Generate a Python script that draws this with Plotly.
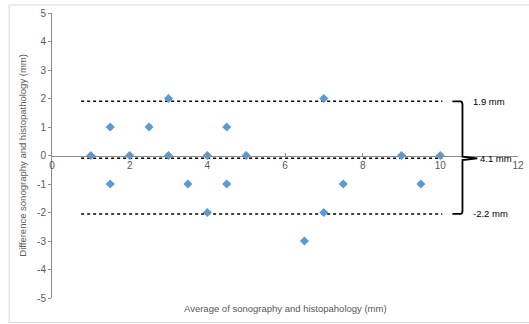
import plotly.graph_objects as go

# Data
avg_vals = [1, 1.5, 1.5, 2, 2.5, 3, 3, 3.5, 4, 4, 4.5, 4.5, 5, 6.5, 7, 7, 7.5, 9, 9.5, 10]
diff_vals = [0, 1, -1, 0, 1, 2, 0, -1, 0, -2, 1, -1, 0, -3, 2, -2, -1, 0, -1, 0]
limit_names = ["upper", "mean", "lower"]
limit_vals = [1.9, -0.1, -2.05]
limit_labels = ["1.9 mm", "4.1 mm", "-2.2 mm"]
line_x_range = [0.75, 10.05]
x_ticks = [0, 2, 4, 6, 8, 10, 12]
y_ticks = [5, 4, 3, 2, 1, 0, -1, -2, -3, -4, -5]
y_tick_text = ["5", "4", "3", "2", "1", "0", "-1", "-2", "-3", "-4", "-5"]

GRAY = "#595959"
AXIS = "#8c8c8c"
FONT = "Liberation Sans, Arial, sans-serif"

fig = go.Figure()

for v in limit_vals:
    fig.add_trace(go.Scatter(
        x=line_x_range, y=[v, v], mode="lines",
        line=dict(color="black", width=1.5, dash="dot"),
        hoverinfo="skip", showlegend=False))

fig.add_trace(go.Scatter(
    x=avg_vals, y=diff_vals, mode="markers",
    marker=dict(symbol="diamond", size=7, color="#5B9BD5"),
    showlegend=False))

# bracket (brace) linking the limits
bx0, bx1, btip = 10.31, 10.57, 10.95
top, mid, bot = limit_vals[0], limit_vals[1], limit_vals[2]
path = (f"M {bx0},{top} L {bx1-0.05},{top} Q {bx1},{top} {bx1},{top-0.12} "
        f"L {bx1},{mid+0.06} L {btip},{mid} L {bx1},{mid-0.06} "
        f"L {bx1},{bot+0.12} Q {bx1},{bot} {bx1-0.05},{bot} L {bx0},{bot}")
fig.add_shape(type="path", path=path, xref="x", yref="y",
              line=dict(color="black", width=1.8))

label_x = [10.8, 10.98, 10.8]
for lx, v, t in zip(label_x, limit_vals, limit_labels):
    fig.add_annotation(x=lx, y=v, text=t, showarrow=False, xanchor="left",
                       yanchor="middle", xref="x", yref="y",
                       font=dict(size=9.5, color="black", family=FONT))

# outer border
fig.add_shape(type="rect", xref="paper", yref="paper",
              x0=-0.092, x1=1.03, y0=-0.086, y1=1.028,
              line=dict(color="#d9d9d9", width=1))

fig.add_annotation(xref="paper", yref="paper", x=0.5, y=-0.012,
                   text="Average of sonography and histopahology (mm)",
                   showarrow=False, xanchor="center", yanchor="top",
                   font=dict(size=9.5, color=GRAY, family=FONT))
fig.add_annotation(xref="paper", yref="paper", x=-0.064, y=0.5,
                   text="Difference sonography and histopathology (mm)",
                   textangle=-90, showarrow=False, xanchor="center", yanchor="middle",
                   font=dict(size=9.5, color=GRAY, family=FONT))

fig.update_layout(
    width=529, height=324,
    margin=dict(l=52, r=11, t=13, b=26),
    paper_bgcolor="white", plot_bgcolor="white",
    font=dict(family=FONT, size=10, color=GRAY),
    xaxis=dict(range=[0, 12], tickvals=x_ticks, showgrid=False, zeroline=False,
               showline=True, linecolor=AXIS, linewidth=1,
               ticks="inside", ticklen=3, tickcolor=AXIS,
               anchor="free", position=0.5, automargin=False,
               tickfont=dict(size=10, color=GRAY)),
    yaxis=dict(range=[-5, 5], tickvals=y_ticks, ticktext=y_tick_text,
               showgrid=False, zeroline=False,
               showline=True, linecolor=AXIS, linewidth=1,
               ticks="outside", ticklen=3, tickcolor=AXIS, automargin=False,
               tickfont=dict(size=10, color=GRAY)),
)

fig.write_html("out.html", config={"displayModeBar": False},
               post_script="document.body.style.margin='0';")
